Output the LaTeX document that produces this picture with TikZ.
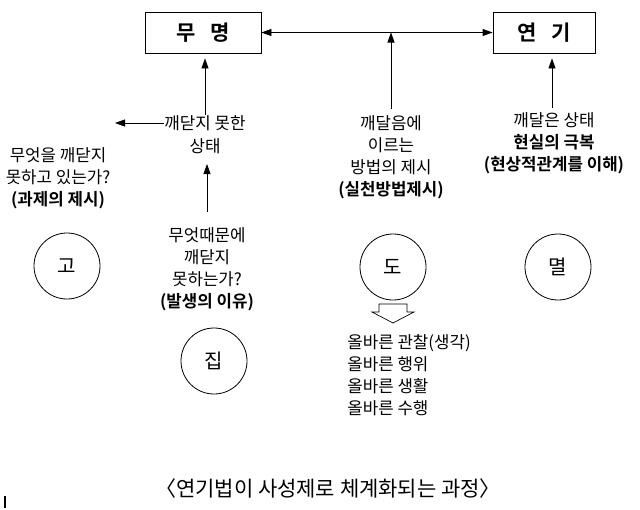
\documentclass[tikz,border=0pt]{standalone}
\usepackage{fontspec}
\setmainfont{Noto Sans CJK KR}[BoldFont={Noto Sans CJK KR Bold}]
\usetikzlibrary{arrows.meta,positioning}

\begin{document}
\begin{tikzpicture}[x=1pt, y=-1pt, line width=0.8pt, >={Triangle[length=10pt,width=7pt]},
    box/.style = {draw, minimum height=41pt, inner sep=0pt, font=\fontsize{21}{21}\selectfont\bfseries},
    main/.style = {draw, circle, minimum size=66pt, inner sep=0pt, font=\fontsize{20}{20}\selectfont},
    txt/.style = {align=center, inner sep=0pt, font=\fontsize{16.8}{22}\selectfont}]
  \useasboundingbox (0,0) rectangle (640,509);

  % top boxes
  \node[box, minimum width=116pt] (mu) at (203,32.5) {무\ \ \ 명};
  \node[box, minimum width=102pt] (yeon) at (544,32.5) {연\ \ \ 기};

  % texts
  \node[txt] (notyet) at (205,123) {깨닫지 못한};
  \node[txt] (state) [below=7pt of notyet] {상태};
  \coordinate (leftend) at (115,123);
  \node[txt] (task) at (58,178) {무엇을 깨닫지\\못하고 있는가?\\\textbf{(과제의 제시)}};
  \node[txt] (cause) at (207,269.5) {무엇때문에\\깨닫지\\못하는가?\\\textbf{(발생의 이유)}};
  \node[txt] (dotext) at (391,157) {깨달음에\\이르는\\방법의 제시\\\textbf{(실천방법제시)}};
  \node[txt] (myeoltext) at (554,143.5) {깨달은 상태\\\textbf{현실의 극복}\\\textbf{(현상적관계를 이해)}};
  \node[txt, align=left, anchor=west] (path) at (347,375) {올바른 관찰(생각)\\올바른 행위\\올바른 생활\\올바른 수행};

  % circles
  \node[main] (go) at (67,266) {고};
  \node[main] (jip) at (214,361) {집};
  \node[main] (do) at (393,267) {도};
  \node[main] (myeol) at (558,267) {멸};

  % hollow arrow under do
  \coordinate (hd) at (393,304);
  \draw[line width=0.7pt, shift={(hd)}] (-14,0) -- (14,0) -- (14,8) -- (21,8) -- (0,19) -- (-21,8) -- (-14,8) -- cycle;

  % arrows
  \draw[<->] (mu.east) -- (yeon.west);
  \draw[->, shorten <=6pt] (dotext.north) -- (dotext.north |- mu.east);
  \draw[->, shorten >=5pt] (notyet.north) -- (notyet.north |- mu.south);
  \draw[->, shorten >=5pt, shorten <=4pt] ([xshift=-2pt]myeoltext.north) -- ([xshift=-2pt]myeoltext.north |- yeon.south);
  \draw[->] (notyet.west) -- (leftend);
  \draw[->, shorten >=10pt, shorten <=15pt] (cause.north) -- (cause.north |- state.south);

  % caption
  \node[inner sep=0pt, font=\fontsize{21}{21}\selectfont] (caption) at (328,489) {〈연기법이 사성제로 체계화되는 과정〉};
  \coordinate (markA) at (5,496);
  \coordinate (markB) at (5,508);
  \draw[line width=1.5pt] (markA) -- (markB);
\end{tikzpicture}
\end{document}
